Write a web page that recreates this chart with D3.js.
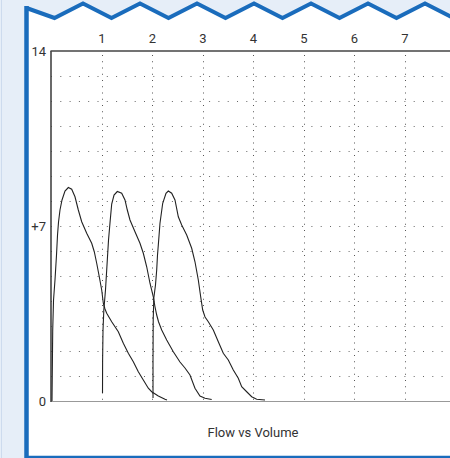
<!DOCTYPE html>
<html><head><meta charset="utf-8">
<script src="https://cdn.jsdelivr.net/npm/d3@7"></script>
<style>html,body{margin:0;padding:0;background:#e6eef8;overflow:hidden}</style>
</head><body><svg id="c" width="450" height="458"></svg>
<script>
// ---- data ----
const xTickValues = [1, 2, 3, 4, 5, 6, 7, 8];
const xTickLabels = ["1", "2", "3", "4", "5", "6", "7", "8"];
const yTickValues = [0, 7, 14];
const yTickLabels = ["0", "+7", "14"];
const gridRows = [1, 2, 3, 4, 5, 6, 7, 8, 9, 10, 11, 12, 13];
const title = "Flow vs Volume";

// loop 1 (volume, flow)
const loop1Volume = [0.020,0.026,0.034,0.050,0.079,0.109,0.129,0.149,0.178,0.218,0.277,0.343,0.410,0.475,0.541,0.608,0.707,0.806,0.857,0.905,0.956,1.004,1.036,1.069,1.103,1.202,1.333,1.432,1.531,1.630,1.729,1.828,1.927,1.994,2.125,2.257,2.297];
const loop1Flow   = [0,1.24,2.84,4.04,4.84,5.84,6.64,7.16,7.64,8.04,8.40,8.54,8.47,8.17,7.64,7.17,6.71,6.31,5.97,5.51,4.97,4.44,3.91,3.68,3.51,3.17,2.77,2.31,1.91,1.57,1.17,0.84,0.51,0.37,0.20,0.07,0.04];
// loop 2
const loop2Volume = [1.020,1.022,1.030,1.046,1.079,1.109,1.139,1.168,1.202,1.248,1.313,1.400,1.465,1.511,1.564,1.663,1.762,1.828,1.895,1.960,2.026,2.059,2.093,2.129,2.192,2.291,2.422,2.554,2.653,2.752,2.851,2.950,3.050,3.182];
const loop2Flow   = [0.32,1.64,2.84,3.64,4.44,5.44,6.44,7.12,7.88,8.24,8.38,8.31,8.04,7.64,7.24,6.77,6.31,5.91,5.37,4.71,4.17,3.77,3.44,3.17,2.84,2.44,1.97,1.56,1.32,1.04,0.51,0.20,0.11,0.06];
// loop 3
const loop3Volume = [2.020,2.020,2.024,2.036,2.069,2.093,2.109,2.125,2.158,2.212,2.277,2.323,2.390,2.455,2.521,2.588,2.687,2.786,2.851,2.917,2.964,3.004,3.050,3.115,3.214,3.313,3.412,3.511,3.610,3.709,3.776,3.875,3.974,4.073,4.238];
const loop3Flow   = [0.12,1.64,3.24,4.12,4.64,5.24,5.84,6.24,7.11,7.91,8.31,8.40,8.31,8.04,7.37,7.04,6.64,6.11,5.57,4.84,4.17,3.64,3.36,3.17,2.84,2.37,1.91,1.64,1.24,0.91,0.57,0.37,0.17,0.07,0.04];

// ---- drawing ----
const svg = d3.select("#c");
const W = 450, H = 458;
const x = d3.scaleLinear().domain([0, 8]).range([51, 455]);
const y = d3.scaleLinear().domain([0, 14]).range([401, 51]);

svg.append("rect").attr("width", W).attr("height", H).attr("fill", "#e6eef8");
svg.append("line").attr("x1", 1.5).attr("x2", 1.5).attr("y1", 0).attr("y2", H)
  .attr("stroke", "#cddbee").attr("stroke-width", 1);

// frame with zigzag top
const frameLeft = 26.5, period = 57, peakY = 3.5, valleyY = 18;
const zig = [[frameLeft, 8]];
let px = 26;
for (let k = 0; px < W + period; k++) {
  zig.push([px + period / 2, valleyY]);
  px += period;
  zig.push([px, peakY]);
}
const framePath = d3.path();
framePath.moveTo(frameLeft, 456);
zig.forEach(p => framePath.lineTo(p[0], p[1]));
framePath.lineTo(W + 60, 456);
framePath.closePath();
svg.append("path").attr("d", framePath.toString()).attr("fill", "#ffffff");
svg.append("path").attr("d", d3.line()(zig)).attr("fill", "none")
  .attr("stroke", "#1a6cbc").attr("stroke-width", 4).attr("stroke-linejoin", "miter");
svg.append("line").attr("x1", frameLeft).attr("x2", frameLeft).attr("y1", 6).attr("y2", 458)
  .attr("stroke", "#1a6cbc").attr("stroke-width", 4.5);
svg.append("line").attr("x1", frameLeft).attr("x2", W).attr("y1", 457).attr("y2", 457)
  .attr("stroke", "#1a6cbc").attr("stroke-width", 2.5);

// grid
const g = svg.append("g");
g.selectAll("line.h").data(gridRows).join("line").attr("class", "h")
  .attr("x1", x(0)).attr("x2", W).attr("y1", d => Math.round(y(d)) + 0.5).attr("y2", d => Math.round(y(d)) + 0.5)
  .attr("stroke", "#666").attr("stroke-width", 1).attr("stroke-dasharray", "1 8.3");
g.selectAll("line.v").data(xTickValues).join("line").attr("class", "v")
  .attr("x1", d => Math.round(x(d)) + 0.5).attr("x2", d => Math.round(x(d)) + 0.5)
  .attr("y1", y(14) + 4).attr("y2", y(0))
  .attr("stroke", "#555").attr("stroke-width", 1).attr("stroke-dasharray", "1 5.25");

// axes frame lines
svg.append("line").attr("x1", x(0)).attr("x2", W).attr("y1", y(0) + 0.5).attr("y2", y(0) + 0.5)
  .attr("stroke", "#999").attr("stroke-width", 1);
svg.append("line").attr("x1", x(0) - 0.5).attr("x2", W).attr("y1", y(14)).attr("y2", y(14))
  .attr("stroke", "#444").attr("stroke-width", 1.6);
svg.append("line").attr("x1", x(0)).attr("x2", x(0)).attr("y1", y(14)).attr("y2", y(0) + 1)
  .attr("stroke", "#444").attr("stroke-width", 1.6);

// axis labels via d3 axes
const xAxis = d3.axisTop(x).tickValues(xTickValues).tickSize(0).tickPadding(8)
  .tickFormat((d, i) => xTickLabels[i]);
const xa = svg.append("g").attr("transform", `translate(0,${y(14)})`).call(xAxis);
xa.select(".domain").remove();
xa.selectAll("text").attr("font-family", "Roboto, sans-serif").attr("font-size", 13).attr("fill", "#333");

const yAxis = d3.axisLeft(y).tickValues(yTickValues).tickSize(0).tickPadding(5)
  .tickFormat((d, i) => yTickLabels[i]);
const ya = svg.append("g").attr("transform", `translate(${x(0)},0)`).call(yAxis);
ya.select(".domain").remove();
ya.selectAll("text").attr("font-family", "Roboto, sans-serif").attr("font-size", 13).attr("fill", "#333");

// loops
const loops = [
  d3.zip(loop1Volume, loop1Flow),
  d3.zip(loop2Volume, loop2Flow),
  d3.zip(loop3Volume, loop3Flow)
];
const line = d3.line().x(d => x(d[0])).y(d => y(d[1]));
svg.append("g").selectAll("path").data(loops).join("path")
  .attr("d", line).attr("fill", "none").attr("stroke", "#222").attr("stroke-width", 1.1);

// title
svg.append("text").attr("x", (x(0) + x(8)) / 2).attr("y", 437).attr("text-anchor", "middle")
  .attr("font-family", "Roboto, sans-serif").attr("font-size", 13).attr("fill", "#333").text(title);
</script>
</body></html>
